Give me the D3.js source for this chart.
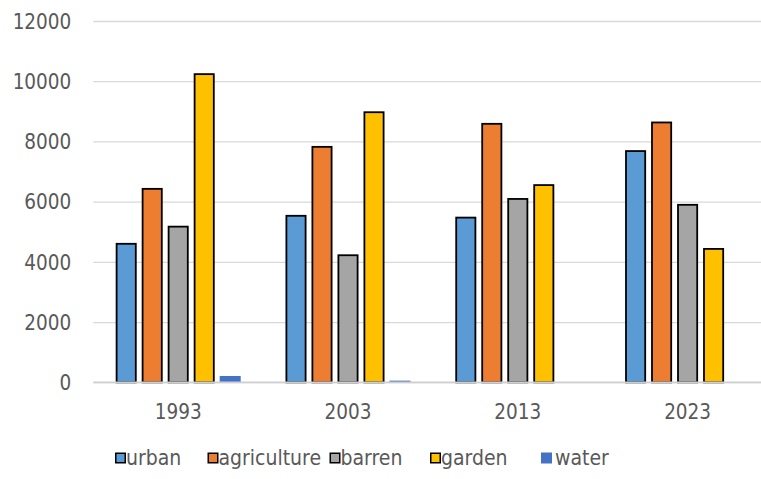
<!DOCTYPE html>
<html>
<head>
<meta charset="utf-8">
<script src="https://cdn.jsdelivr.net/npm/d3@7"></script>
<style>
  html, body { margin: 0; padding: 0; background: #fff; }
  svg { display: block; }
  text { font-family: "DejaVu Sans Condensed", "DejaVu Sans", sans-serif; fill: #595959; }
</style>
</head>
<body>
<svg id="chart" width="761" height="479"></svg>
<script>
const years = ["1993", "2003", "2013", "2023"];
const seriesNames = ["urban", "agriculture", "barren", "garden", "water"];
const urban = [4630, 5560, 5500, 7710];
const agriculture = [6455, 7850, 8615, 8660];
const barren = [5200, 4250, 6120, 5925];
const garden = [10265, 9000, 6580, 4460];
const water = [210, 55, 0, 0];
const yTicks = [0, 2000, 4000, 6000, 8000, 10000, 12000];
const colors = ["#5B9BD5", "#ED7D31", "#A5A5A5", "#FFC000", "#4472C4"];
const outlined = [true, true, true, true, false];

const values = [urban, agriculture, barren, garden, water];
const data = years.map((yr, i) => ({
  year: yr,
  vals: seriesNames.map((s, j) => ({ key: s, idx: j, value: values[j][i] }))
}));

const svg = d3.select("#chart");

const left = 93.3, right = 772.5;
const y = d3.scaleLinear().domain([0, 12000]).range([382.3, 21]);
const x0 = d3.scaleBand().domain(years).range([left, right]).paddingInner(0).paddingOuter(0);
const cw = x0.bandwidth();
const x1 = d3.scaleBand().domain(seriesNames)
  .range([cw / 2 - 65, cw / 2 + 65])
  .paddingInner(5 / 26).paddingOuter(2.5 / 26);

// gridlines
const yAxis = d3.axisLeft(y).tickValues(yTicks).tickSize(-(right - left)).tickPadding(22).tickFormat(d3.format("d"));
const gy = svg.append("g").attr("transform", `translate(${left},0)`).call(yAxis);
gy.select(".domain").remove();
gy.selectAll(".tick line").attr("stroke", "#d9d9d9").attr("stroke-width", 1.3);
gy.selectAll(".tick text").attr("font-size", 20.5).style("fill", "#595959")
  .attr("dy", "0.35em");

// bars
const groups = svg.append("g").selectAll("g").data(data).join("g")
  .attr("transform", d => `translate(${x0(d.year)},0)`);
groups.selectAll("rect").data(d => d.vals.filter(v => v.value > 0)).join("rect")
  .attr("x", d => x1(d.key) + (outlined[d.idx] ? 0.9 : 0))
  .attr("width", d => x1.bandwidth() - (outlined[d.idx] ? 1.8 : 0))
  .attr("y", d => y(d.value) + (outlined[d.idx] ? 0.9 : 0))
  .attr("height", d => y(0) - y(d.value) - (outlined[d.idx] ? 0.9 : 0))
  .attr("fill", d => colors[d.idx])
  .attr("stroke", d => outlined[d.idx] ? "#000" : "none")
  .attr("stroke-width", 1.8);

// x axis baseline
const xAxis = d3.axisBottom(x0).tickSize(0).tickPadding(22);
const gx = svg.append("g").attr("transform", `translate(0,${y(0)})`).call(xAxis);
gx.select(".domain").attr("stroke", "#cfcfcf").attr("stroke-width", 1.5)
  .attr("d", `M${left},0H${right}`);
gx.selectAll(".tick text").attr("font-size", 20.5).style("fill", "#595959");

// legend
const legendX = [115, 207.5, 329.5, 430, 541];
const legend = svg.append("g").attr("transform", "translate(0,458)");
seriesNames.forEach((s, i) => {
  const g = legend.append("g").attr("transform", `translate(${legendX[i]},0)`);
  g.append("rect").attr("x", outlined[i] ? 0.75 : 0).attr("y", -5.5 + (outlined[i] ? 0.75 : 0))
    .attr("width", outlined[i] ? 9.5 : 11).attr("height", outlined[i] ? 9.5 : 11)
    .attr("fill", colors[i])
    .attr("stroke", outlined[i] ? "#000" : "none").attr("stroke-width", 1.5);
  g.append("text").attr("x", outlined[i] ? 11 : 14).attr("y", 0).attr("dy", "0.34em")
    .attr("font-size", 21).text(s);
});
</script>
</body>
</html>
